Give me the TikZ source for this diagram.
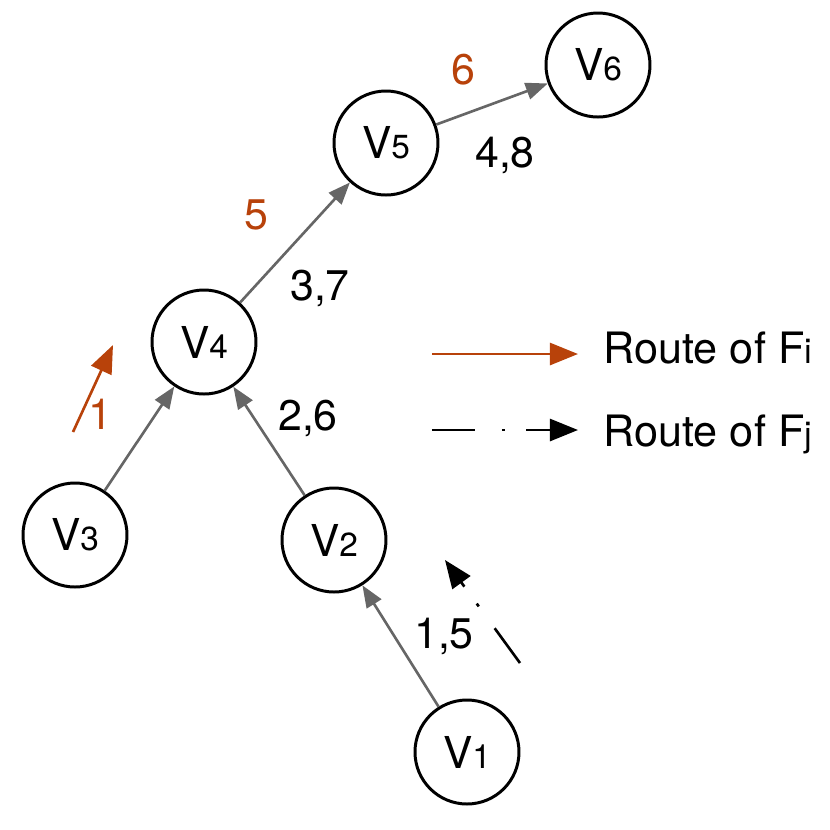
\documentclass[tikz,border=0pt]{standalone}
\usepackage{fontspec}
\setmainfont{TeX Gyre Heros}
\usetikzlibrary{arrows.meta}
\definecolor{routeorange}{RGB}{184,66,10}
\newcommand{\vname}[1]{V{\fontsize{9.5}{10}\selectfont #1}}
\newcommand{\fname}[1]{F{\fontsize{9.8}{10}\selectfont #1}}

\begin{document}
\begin{tikzpicture}[
vertex/.style={circle,draw=black,line width=0.85pt,minimum size=10.4mm,inner sep=0pt,font=\fontsize{12.5}{14}\selectfont},
link/.style={-{Triangle[length=2.2mm,width=1.7mm]},line width=0.75pt,draw=black!60},
weight/.style={font=\fontsize{12.2}{14}\selectfont},
order/.style={font=\fontsize{12.2}{14}\selectfont,text=routeorange},
routei/.style={-{Triangle[length=2.8mm,width=2.2mm]},line width=0.75pt,draw=routeorange,fill=routeorange},
routej/.style={-{Triangle[length=2.8mm,width=2.2mm]},line width=0.75pt,draw=black,
dash pattern=on 4.3mm off 2.7mm on 0.35mm off 2.1mm}]
\useasboundingbox (0,0) rectangle (8.3,-8.3);
\node[vertex] (v1) at (4.67,-7.52) {\vname{1}};
\node[vertex] (v2) at (3.34,-5.40) {\vname{2}};
\node[vertex] (v3) at (0.75,-5.35) {\vname{3}};
\node[vertex] (v4) at (2.04,-3.42) {\vname{4}};
\node[vertex] (v5) at (3.86,-1.43) {\vname{5}};
\node[vertex] (v6) at (5.98,-0.65) {\vname{6}};
\draw[link] (v1)--(v2);
\draw[link] (v2)--(v4);
\draw[link] (v3)--(v4);
\draw[link] (v4)--(v5);
\draw[link] (v5)--(v6);
\node[weight] (w15) at (4.44,-6.36) {1,5};
\node[weight] (w26) at (3.08,-4.18) {2,6};
\node[weight] (w37) at (3.20,-2.88) {3,7};
\node[weight] (w48) at (5.05,-1.55) {4,8};
\node[order] (o1) at (1.00,-4.14) {1};
\node[order] (o5) at (2.56,-2.15) {5};
\node[order] (o6) at (4.63,-0.70) {6};
% route markers
\coordinate (fistart) at (0.73,-4.32);
\coordinate (fiend) at (1.13,-3.45);
\draw[routei] (fistart)--(fiend);
\coordinate (fjstart) at (5.20,-6.63);
\coordinate (fjend) at (4.45,-5.60);
\draw[routej] (fjstart)--(fjend);
% legend
\coordinate (legi) at (4.32,-3.54);
\coordinate (legiend) at (5.78,-3.54);
\coordinate (legj) at (4.32,-4.30);
\coordinate (legjend) at (5.78,-4.30);
\draw[routei] (legi)--(legiend);
\draw[routej] (legj)--(legjend);
\node[anchor=base west,font=\fontsize{12.3}{14}\selectfont,inner sep=0pt] (keyi) at (6.03,-3.63) {Route of \fname{i}};
\node[anchor=base west,font=\fontsize{12.3}{14}\selectfont,inner sep=0pt] (keyj) at (6.03,-4.46) {Route of \fname{j}};
\end{tikzpicture}
\end{document}
